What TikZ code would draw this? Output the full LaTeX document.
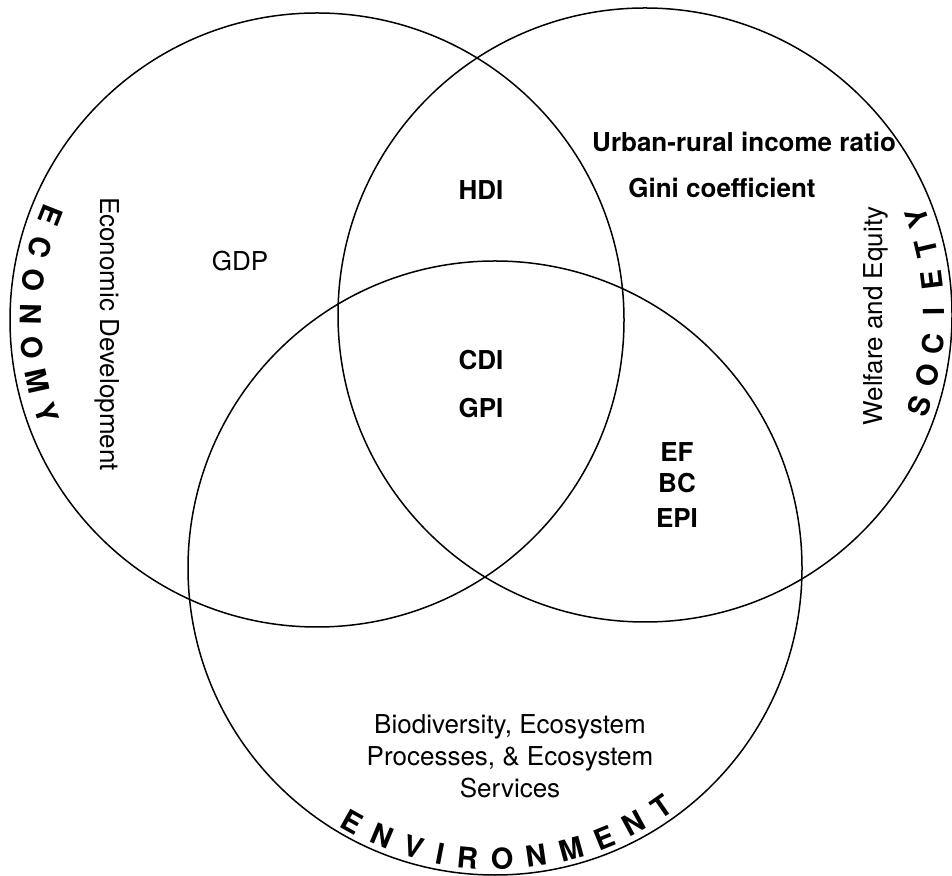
\documentclass[tikz,border=0pt]{standalone}
\usepackage{fontspec}
\setmainfont{TeX Gyre Heros}
\usetikzlibrary{calc}
\begin{document}
\begin{tikzpicture}[x=1pt,y=1pt,
  ring/.style={draw=black,line width=1.5pt},
  lbl/.style={font=\fontsize{26}{32}\selectfont, inner sep=0pt},
  blbl/.style={font=\fontsize{26}{32}\selectfont\bfseries, inner sep=0pt},
  arcl/.style={font=\fontsize{29}{32}\selectfont\bfseries, inner sep=0pt}]
\useasboundingbox (0,0) rectangle (952,875);
\coordinate (L) at (317,555);
\coordinate (R) at (645,560);
\coordinate (B) at (495,307);
\draw[ring] (L) circle[radius=307];
\draw[ring] (R) circle[radius=307];
\draw[ring] (B) circle[radius=307];

\node[lbl] (gdp) at (240,614) {GDP};
\node[lbl, rotate=-90] (ecodev) at (107,541) {Economic Development};
\node[lbl, rotate=90] (welf) at (876,559) {Welfare and Equity};
\node[lbl, align=center] (bio) at (510,119) {Biodiversity, Ecosystem\\Processes, \& Ecosystem\\Services};

\node[blbl] (hdi) at (481,685) {HDI};
\node[blbl] (cdi) at (481,515) {CDI};
\node[blbl] (gpi) at (481,467) {GPI};
\node[blbl] (ef) at (677,423) {EF};
\node[blbl] (bc) at (677,392) {BC};
\node[blbl] (epi) at (677,357) {EPI};
\node[blbl] (urr) at (744,733) {Urban-rural income ratio};
\node[blbl] (gini) at (722,687) {Gini coefficient};

\foreach \l [count=\i from 0] in {E,C,O,N,O,M,Y} {
  \pgfmathsetmacro\ang{158.5+6.75*\i}
  \node[arcl, rotate=\ang+90] (eco\i) at ($(L)+(\ang:286)$) {\l};
}
\foreach \l [count=\i from 0] in {S,O,C,I,E,T,Y} {
  \pgfmathsetmacro\ang{-18.4+6.33*\i}
  \node[arcl, rotate=\ang+90] (soc\i) at ($(R)+(\ang:289)$) {\l};
}
\foreach \l/\a [count=\i from 0] in {E/-119.3, N/-112.78, V/-106.25, I/-100.9, R/-95.41, O/-88.59, N/-81.77, M/-74.81, E/-67.99, N/-61.46, T/-55.09} {
  \node[arcl, rotate=\a+90] (env\i) at ($(B)+(\a:291)$) {\l};
}
\end{tikzpicture}
\end{document}
